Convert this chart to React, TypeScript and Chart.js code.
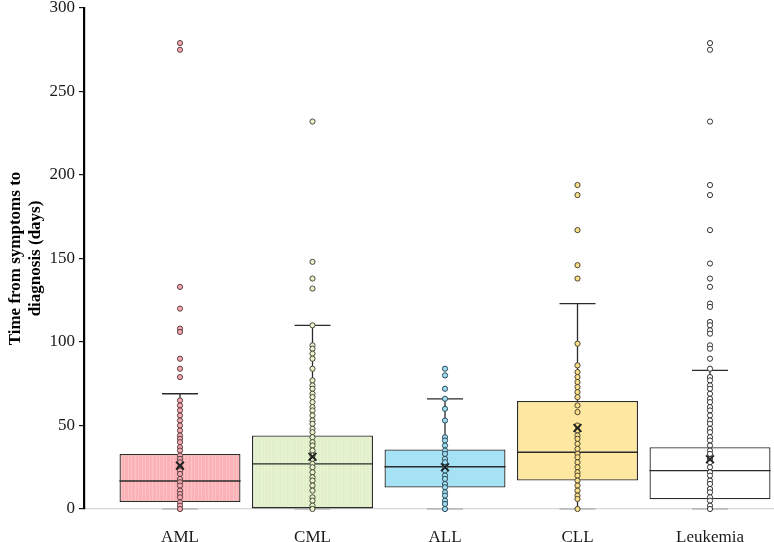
import React, { useEffect, useRef } from 'react';
import { Chart, registerables } from 'chart.js';

Chart.register(...registerables);

// Groups along the x axis
const categories = ['AML', 'CML', 'ALL', 'CLL', 'Leukemia'];

// Box statistics (days)
const q1Values = [4.2, 0, 12.8, 17, 5.8];
const medianValues = [16.8, 27, 25.3, 34, 23];
const q3Values = [33, 44, 35.7, 64.7, 37];
const whiskerLowValues = [0, 0, 0, 0, 0];
const whiskerHighValues = [69, 110, 66, 123, 83];
const meanValues = [26, 31.3, 25, 48.5, 29.8];

// Individual observations per group (days)
const amlPoints = [279, 275, 133, 120, 108, 106, 90, 84, 79, 65, 62, 59, 56, 53, 50, 47, 44, 42, 40, 37, 35, 32, 30, 28, 25, 23, 21, 18, 16, 14, 11, 9, 7, 4, 2, 0];
const cmlPoints = [232, 148, 138, 132, 110, 98, 96, 93, 90, 84, 77, 74, 72, 69, 67, 64, 61, 59, 56, 53, 51, 48, 46, 43, 40, 38, 35, 32, 30, 27, 25, 22, 19, 17, 14, 11, 7, 5, 2, 0];
const allPoints = [84, 80, 72, 66, 60, 53, 43, 41, 38, 35, 33, 30, 28, 25, 23, 20, 18, 15, 13, 10, 8, 5, 3, 0];
const cllPoints = [194, 188, 167, 146, 138, 99, 86, 82, 79, 76, 73, 70, 67, 62, 58, 50, 47, 44, 42, 39, 36, 33, 31, 28, 25, 22, 20, 17, 14, 11, 8, 6, 0];
const leukemiaPoints = [279, 275, 232, 194, 188, 167, 147, 138, 133, 123, 121, 112, 110, 107, 105, 98, 96, 90, 84, 79, 77, 74, 72, 69, 66, 64, 61, 59, 56, 53, 51, 48, 46, 43, 41, 38, 35, 33, 30, 28, 25, 22, 20, 17, 15, 12, 10, 7, 5, 2, 0];
const groupPoints = [amlPoints, cmlPoints, allPoints, cllPoints, leukemiaPoints];

// Colours
const boxBase = ['#fbb2b7', '#e1f0ca', '#9cdff5', '#fee597', '#ffffff'];
const boxAccent = ['#fcc2c6', '#e8f3d4', '#aee5f7', '#fdeaa8', '#ffffff'];
const pointFill = ['#f6a9b0', '#e8f3cc', '#9fdcf2', '#fde08a', '#ffffff'];
const pointBorder = ['#5a3f42', '#45483a', '#2e4a55', '#4a4332', '#333333'];
const inkColor = '#2b2b2b';

const serif = "'Liberation Serif', 'Times New Roman', serif";

function makeFill(i: number): CanvasPattern | string {
  const c = document.createElement('canvas');
  const ctx = c.getContext('2d');
  if (!ctx) return boxBase[i];
  if (i === 0 || i === 1) {
    // faint vertical stripes
    c.width = 7; c.height = 4;
    ctx.fillStyle = boxBase[i];
    ctx.fillRect(0, 0, 7, 4);
    ctx.fillStyle = boxAccent[i];
    ctx.fillRect(2, 0, 1, 4);
    ctx.fillRect(5, 0, 1, 4);
  } else if (i === 2 || i === 3) {
    // fine checkered grain
    c.width = 2; c.height = 2;
    ctx.fillStyle = boxBase[i];
    ctx.fillRect(0, 0, 2, 2);
    ctx.fillStyle = boxAccent[i];
    ctx.fillRect(0, 0, 1, 1);
    ctx.fillRect(1, 1, 1, 1);
  } else {
    return boxBase[i];
  }
  return ctx.createPattern(c, 'repeat') || boxBase[i];
}

const capHalf = 0.136;
const medianHalf = 0.457;

export default function App() {
  const canvasRef = useRef<HTMLCanvasElement | null>(null);

  useEffect(() => {
    const canvas = canvasRef.current;
    if (!canvas) return;

    const boxData = categories.map((_, i) => ({ x: i + 1, y: [q1Values[i], q3Values[i]] }));

    const whiskerData: any[] = [];
    const lowCapData: any[] = [];
    const medianData: any[] = [];
    categories.forEach((_, i) => {
      const x = i + 1;
      whiskerData.push({ x, y: q3Values[i] }, { x, y: whiskerHighValues[i] }, { x, y: null });
      whiskerData.push({ x: x - capHalf, y: whiskerHighValues[i] }, { x: x + capHalf, y: whiskerHighValues[i] }, { x, y: null });
      whiskerData.push({ x, y: whiskerLowValues[i] }, { x, y: q1Values[i] }, { x, y: null });
      lowCapData.push({ x: x - capHalf, y: whiskerLowValues[i] }, { x: x + capHalf, y: whiskerLowValues[i] }, { x, y: null });
      medianData.push({ x: x - medianHalf, y: medianValues[i] }, { x: x + medianHalf, y: medianValues[i] }, { x, y: null });
    });

    const pointSets = groupPoints.map((vals, i) => ({
      type: 'scatter' as const,
      data: vals.map((v) => ({ x: i + 1, y: v })),
      pointRadius: 2.6,
      pointBorderWidth: 1,
      pointBackgroundColor: pointFill[i],
      pointBorderColor: pointBorder[i],
      pointHoverRadius: 2.6,
      clip: false as any,
      order: 2,
    }));

    const chart = new Chart(canvas, {
      type: 'bar',
      data: {
        datasets: [
          {
            type: 'bar',
            data: boxData as any,
            backgroundColor: categories.map((_, i) => makeFill(i)) as any,
            borderColor: inkColor,
            borderWidth: 1.3,
            borderSkipped: false,
            categoryPercentage: 0.913,
            barPercentage: 1,
            order: 6,
          },
          {
            type: 'line',
            data: whiskerData,
            borderColor: inkColor,
            borderWidth: 1.3,
            pointRadius: 0,
            spanGaps: false,
            order: 5,
          },
          {
            type: 'line',
            data: lowCapData,
            borderColor: '#a0a0a0',
            borderWidth: 1.2,
            pointRadius: 0,
            spanGaps: false,
            clip: false as any,
            order: 5,
          },
          {
            type: 'line',
            data: medianData,
            borderColor: inkColor,
            borderWidth: 1.4,
            pointRadius: 0,
            spanGaps: false,
            order: 4,
          },
          ...pointSets,
          {
            type: 'scatter',
            data: meanValues.map((v, i) => ({ x: i + 1, y: v })),
            pointStyle: 'crossRot',
            pointRadius: 5.5,
            pointBorderWidth: 2,
            pointBorderColor: '#222222',
            order: 1,
          },
        ] as any,
      },
      options: {
        responsive: false,
        animation: false,
        layout: { autoPadding: false, padding: { top: 8, right: 0, bottom: 0, left: 0 } },
        plugins: {
          legend: { display: false },
          tooltip: { enabled: false },
        },
        scales: {
          x: {
            type: 'linear',
            offset: false,
            min: 0.2755,
            max: 5.483,
            afterBuildTicks: (scale: any) => {
              scale.ticks = categories.map((_, i) => ({ value: i + 1 }));
            },
            afterFit: (scale: any) => {
              scale.height = 33;
              scale.paddingLeft = 0;
              scale.paddingRight = 0;
            },
            ticks: {
              autoSkip: false,
              maxRotation: 0,
              padding: 18,
              color: '#1a1a1a',
              font: { family: serif, size: 17 },
              callback: (v: any) => categories[Number(v) - 1] ?? '',
            },
            grid: { display: false, drawTicks: false, offset: false },
            border: { display: true, color: '#d6d6d6', width: 1.2 },
          },
          y: {
            min: 0,
            max: 300,
            afterFit: (scale: any) => {
              scale.width = 84;
              scale.paddingTop = 0;
              scale.paddingBottom = 0;
            },
            ticks: {
              stepSize: 50,
              padding: 4,
              color: '#1a1a1a',
              font: { family: serif, size: 17 },
            },
            grid: { drawOnChartArea: false, drawTicks: true, tickLength: 5, color: '#111111', lineWidth: 1.2 },
            border: { display: true, color: '#000000', width: 2.2 },
            title: {
              display: true,
              text: ['Time from symptoms to', 'diagnosis (days)'],
              color: '#000000',
              font: { family: serif, size: 17, weight: 'bold', lineHeight: 1.2 },
              padding: { top: 5, bottom: 0 },
            },
          },
        },
      } as any,
    });

    return () => chart.destroy();
  }, []);

  return (
    <div style={{ position: 'fixed', left: 0, top: 0, width: 774, height: 542, background: '#ffffff' }}>
      <canvas ref={canvasRef} width={774} height={542} style={{ display: 'block' }} />
    </div>
  );
}
